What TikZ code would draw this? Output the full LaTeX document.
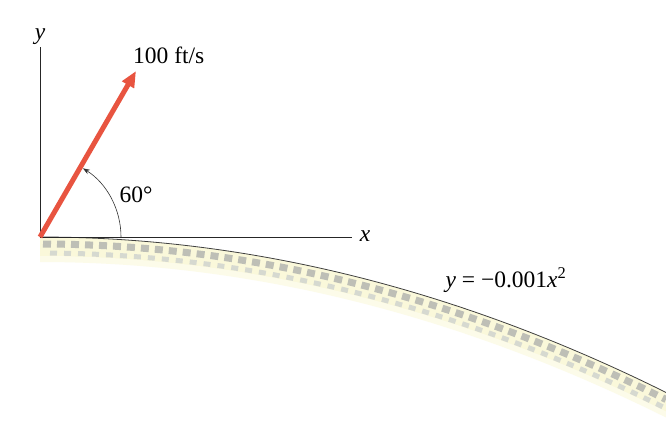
\documentclass[tikz,border=0pt]{standalone}
\usepackage{fontspec}
\setmainfont{Liberation Serif}
\usetikzlibrary{arrows.meta}
\definecolor{velred}{RGB}{232,84,64}
\definecolor{sand}{RGB}{250,248,218}
\definecolor{pebble}{RGB}{170,172,170}
\definecolor{pebblelt}{RGB}{200,204,205}
\tikzset{
  axis/.style={draw=black!85, line width=0.9pt},
  lbl/.style={font=\fontsize{23.5}{26}\selectfont, inner sep=1pt},
  ilbl/.style={font=\fontsize{23.5}{26}\selectfont\itshape, inner sep=1pt},
  velarrow/.style={draw=velred, line width=5pt, -{Triangle[length=16pt,width=13pt]}},
  anglearc/.style={draw=black!80, line width=0.6pt, -{Stealth[length=7pt,width=5pt]}},
}
\begin{document}
\begin{tikzpicture}[x=1pt,y=-1pt]
\useasboundingbox (0,0) rectangle (666,421);
\fill[white] (0,0) rectangle (666,421);
% ground band
\fill[sand] plot[domain=0:630,samples=80] ({40+\x},{237+0.0004*\x*\x})
  -- plot[domain=630:0,samples=80] ({40+\x},{257+0.0004*\x*\x}) -- cycle;
\fill[sand!60] plot[domain=0:630,samples=80] ({40+\x},{256+0.0004*\x*\x})
  -- plot[domain=630:0,samples=80] ({40+\x},{262+0.0004*\x*\x}) -- cycle;
\draw[pebble, line width=7pt, dash pattern=on 8pt off 6pt, opacity=0.75]
  plot[domain=3:626,samples=80] ({40+\x},{244+0.0004*\x*\x});
\draw[pebblelt, line width=5pt, dash pattern=on 7pt off 7pt, dash phase=7pt, opacity=0.7]
  plot[domain=3:626,samples=80] ({40+\x},{253+0.0004*\x*\x});
\draw[black!75, line width=0.8pt]
  plot[domain=0:626,samples=80] ({40+\x},{237+0.0004*\x*\x});
% axes
\coordinate (O) at (40,237);
\coordinate (ytop) at (40,47);
\coordinate (xend) at (352,237);
\coordinate (tip) at (136,71);
\draw[axis] (ytop) -- (O) -- (xend);
\node[ilbl] (ylab) at (40,37) {y};
\node[ilbl] (xlab) at (365,236) {x};
% velocity
\draw[velarrow] (O) -- (tip);
\node[lbl, anchor=west] (vlab) at (132,55) {100 ft/s};
% angle
\draw[anglearc] ([shift={(0:81)}]O) arc[start angle=0, end angle=-58, radius=81];
\node[lbl] (alab) at (136,195) {60°};
% curve label
\node[lbl] (clab) at (506,280) {\textit{y} = −0.001\textit{x}\textsuperscript{2}};
\end{tikzpicture}
\end{document}
